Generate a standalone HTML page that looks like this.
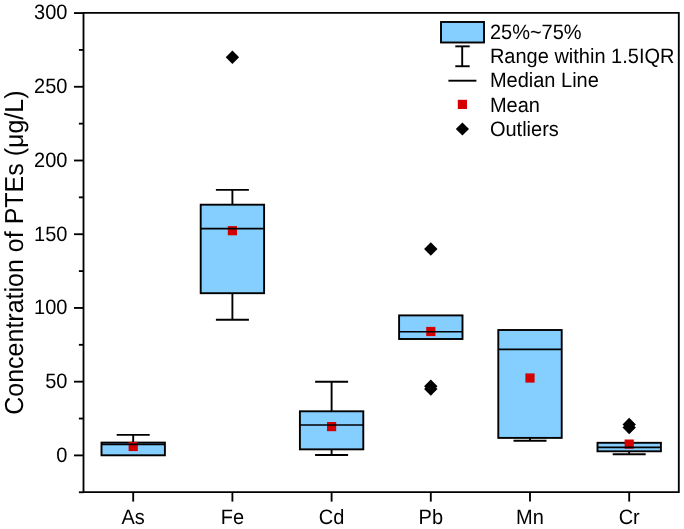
<!DOCTYPE html>
<html><head><meta charset="utf-8"><style>
html,body{margin:0;padding:0;background:#fff;}
svg{display:block;will-change:transform;}
.t{font-family:"Liberation Sans",sans-serif;font-size:20px;fill:#000;text-rendering:geometricPrecision;}
.ti{font-family:"Liberation Sans",sans-serif;font-size:25px;fill:#000;text-rendering:geometricPrecision;}
.k{stroke:#000;stroke-width:1.9;}
.a{stroke:#000;stroke-width:1.85;}
</style></head><body>
<svg width="684" height="529" viewBox="0 0 684 529">
<line x1="133.20" y1="442.60" x2="133.20" y2="434.90" class="k"/>
<line x1="116.70" y1="434.90" x2="149.70" y2="434.90" class="k"/>
<rect x="101.50" y="442.60" width="63.40" height="12.70" fill="#84cfff" stroke="#000" stroke-width="1.9"/>
<rect x="128.60" y="441.90" width="9.2" height="9.2" fill="#d40000"/>
<line x1="101.50" y1="444.35" x2="164.90" y2="444.35" stroke="#000" stroke-width="1.6"/>
<line x1="232.40" y1="204.70" x2="232.40" y2="189.90" class="k"/>
<line x1="215.90" y1="189.90" x2="248.90" y2="189.90" class="k"/>
<line x1="232.40" y1="293.20" x2="232.40" y2="319.70" class="k"/>
<line x1="215.90" y1="319.70" x2="248.90" y2="319.70" class="k"/>
<rect x="200.70" y="204.70" width="63.40" height="88.50" fill="#84cfff" stroke="#000" stroke-width="1.9"/>
<rect x="227.80" y="226.10" width="9.2" height="9.2" fill="#d40000"/>
<line x1="200.70" y1="228.65" x2="264.10" y2="228.65" stroke="#000" stroke-width="1.6"/>
<path d="M232.40 50.60L239.10 57.30L232.40 64.00L225.70 57.30Z" fill="#000"/>
<line x1="331.60" y1="411.30" x2="331.60" y2="381.70" class="k"/>
<line x1="315.10" y1="381.70" x2="348.10" y2="381.70" class="k"/>
<line x1="331.60" y1="449.35" x2="331.60" y2="455.00" class="k"/>
<line x1="315.10" y1="455.00" x2="348.10" y2="455.00" class="k"/>
<rect x="299.90" y="411.30" width="63.40" height="38.05" fill="#84cfff" stroke="#000" stroke-width="1.9"/>
<rect x="327.00" y="422.00" width="9.2" height="9.2" fill="#d40000"/>
<line x1="299.90" y1="425.05" x2="363.30" y2="425.05" stroke="#000" stroke-width="1.6"/>
<rect x="399.10" y="315.40" width="63.40" height="23.60" fill="#84cfff" stroke="#000" stroke-width="1.9"/>
<rect x="426.20" y="326.90" width="9.2" height="9.2" fill="#d40000"/>
<line x1="399.10" y1="331.70" x2="462.50" y2="331.70" stroke="#000" stroke-width="1.6"/>
<path d="M430.80 242.30L437.50 249.00L430.80 255.70L424.10 249.00Z" fill="#000"/>
<path d="M430.80 379.60L437.50 386.30L430.80 393.00L424.10 386.30Z" fill="#000"/>
<path d="M430.80 382.30L437.50 389.00L430.80 395.70L424.10 389.00Z" fill="#000"/>
<line x1="530.00" y1="437.90" x2="530.00" y2="440.70" class="k"/>
<line x1="513.50" y1="440.70" x2="546.50" y2="440.70" class="k"/>
<rect x="498.30" y="330.00" width="63.40" height="107.90" fill="#84cfff" stroke="#000" stroke-width="1.9"/>
<rect x="525.40" y="373.40" width="9.2" height="9.2" fill="#d40000"/>
<line x1="498.30" y1="349.35" x2="561.70" y2="349.35" stroke="#000" stroke-width="1.6"/>
<line x1="629.20" y1="451.30" x2="629.20" y2="454.20" class="k"/>
<line x1="612.70" y1="454.20" x2="645.70" y2="454.20" class="k"/>
<rect x="597.50" y="442.80" width="63.40" height="8.50" fill="#84cfff" stroke="#000" stroke-width="1.9"/>
<rect x="624.60" y="439.50" width="9.2" height="9.2" fill="#d40000"/>
<line x1="597.50" y1="447.40" x2="660.90" y2="447.40" stroke="#000" stroke-width="1.6"/>
<path d="M629.20 417.70L635.90 424.40L629.20 431.10L622.50 424.40Z" fill="#000"/>
<path d="M629.20 420.90L635.90 427.60L629.20 434.30L622.50 427.60Z" fill="#000"/>
<path d="M83.5 12.9H678.8V492.1H83.5Z" fill="none" stroke="#000" stroke-width="1.85" stroke-linejoin="miter"/>
<line x1="78.90" y1="492.26" x2="83.5" y2="492.26" class="a"/>
<line x1="74.00" y1="455.40" x2="83.5" y2="455.40" class="a"/>
<text transform="translate(67.4 461.70) scale(1 1.04)" text-anchor="end" class="t">0</text>
<line x1="78.90" y1="418.54" x2="83.5" y2="418.54" class="a"/>
<line x1="74.00" y1="381.67" x2="83.5" y2="381.67" class="a"/>
<text transform="translate(67.4 387.97) scale(1 1.04)" text-anchor="end" class="t">50</text>
<line x1="78.90" y1="344.81" x2="83.5" y2="344.81" class="a"/>
<line x1="74.00" y1="307.95" x2="83.5" y2="307.95" class="a"/>
<text transform="translate(67.4 314.25) scale(1 1.04)" text-anchor="end" class="t">100</text>
<line x1="78.90" y1="271.09" x2="83.5" y2="271.09" class="a"/>
<line x1="74.00" y1="234.22" x2="83.5" y2="234.22" class="a"/>
<text transform="translate(67.4 240.53) scale(1 1.04)" text-anchor="end" class="t">150</text>
<line x1="78.90" y1="197.36" x2="83.5" y2="197.36" class="a"/>
<line x1="74.00" y1="160.50" x2="83.5" y2="160.50" class="a"/>
<text transform="translate(67.4 166.80) scale(1 1.04)" text-anchor="end" class="t">200</text>
<line x1="78.90" y1="123.64" x2="83.5" y2="123.64" class="a"/>
<line x1="74.00" y1="86.77" x2="83.5" y2="86.77" class="a"/>
<text transform="translate(67.4 93.07) scale(1 1.04)" text-anchor="end" class="t">250</text>
<line x1="78.90" y1="49.91" x2="83.5" y2="49.91" class="a"/>
<line x1="74.00" y1="13.05" x2="83.5" y2="13.05" class="a"/>
<text transform="translate(67.4 19.35) scale(1 1.04)" text-anchor="end" class="t">300</text>
<line x1="133.20" y1="492.1" x2="133.20" y2="501.60" class="a"/>
<text transform="translate(133.20 524) scale(1 1.04)" text-anchor="middle" class="t">As</text>
<line x1="232.40" y1="492.1" x2="232.40" y2="501.60" class="a"/>
<text transform="translate(232.40 524) scale(1 1.04)" text-anchor="middle" class="t">Fe</text>
<line x1="331.60" y1="492.1" x2="331.60" y2="501.60" class="a"/>
<text transform="translate(331.60 524) scale(1 1.04)" text-anchor="middle" class="t">Cd</text>
<line x1="430.80" y1="492.1" x2="430.80" y2="501.60" class="a"/>
<text transform="translate(430.80 524) scale(1 1.04)" text-anchor="middle" class="t">Pb</text>
<line x1="530.00" y1="492.1" x2="530.00" y2="501.60" class="a"/>
<text transform="translate(530.00 524) scale(1 1.04)" text-anchor="middle" class="t">Mn</text>
<line x1="629.20" y1="492.1" x2="629.20" y2="501.60" class="a"/>
<text transform="translate(629.20 524) scale(1 1.04)" text-anchor="middle" class="t">Cr</text>
<text transform="translate(23.4 252.6) rotate(-90) scale(1 1.04)" text-anchor="middle" class="ti">Concentration of PTEs (μg/L)</text>
<rect x="441" y="22" width="43" height="20.5" fill="#84cfff" stroke="#000" stroke-width="1.9"/>
<line x1="462.2" y1="46.35" x2="462.2" y2="66.25" class="k"/>
<line x1="455.3" y1="46.35" x2="469.7" y2="46.35" class="k"/>
<line x1="455.3" y1="66.25" x2="469.7" y2="66.25" class="k"/>
<line x1="448.4" y1="80.7" x2="476.4" y2="80.7" class="k"/>
<rect x="457.8" y="99.8" width="9.2" height="9.2" fill="#d40000"/>
<path d="M462.4 122.4L469 129L462.4 135.6L455.8 129Z" fill="#000"/>
<text transform="translate(489.9 38.6) scale(1 1.04)" class="t">25%~75%</text>
<text transform="translate(489.9 62.8) scale(1 1.04)" class="t">Range within 1.5IQR</text>
<text transform="translate(489.9 87.2) scale(1 1.04)" class="t">Median Line</text>
<text transform="translate(489.9 112.0) scale(1 1.04)" class="t">Mean</text>
<text transform="translate(489.9 136.1) scale(1 1.04)" class="t">Outliers</text>
</svg>
</body></html>
